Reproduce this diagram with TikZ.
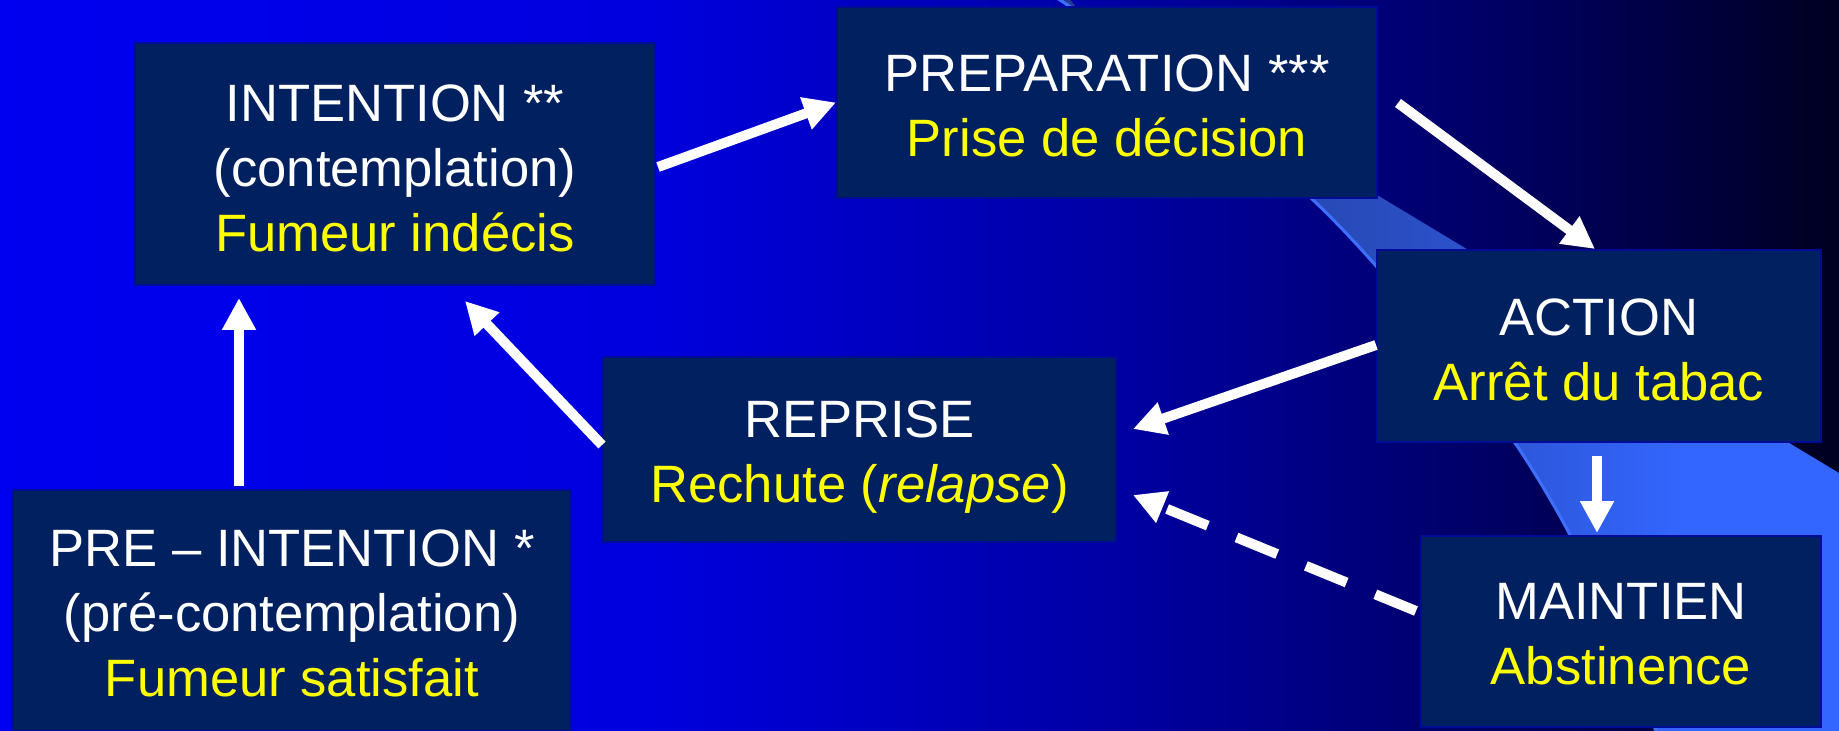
\documentclass[tikz,border=0pt]{standalone}
\usepackage{fontspec}
\setmainfont{Liberation Sans}
\usetikzlibrary{arrows.meta,calc}
\definecolor{boxfill}{RGB}{0,32,96}
\definecolor{boxline}{RGB}{0,12,150}
\definecolor{yel}{RGB}{255,255,0}
\definecolor{bgA}{RGB}{0,0,240}
\definecolor{bgB}{RGB}{0,0,222}
\definecolor{bgC}{RGB}{0,0,165}
\definecolor{bgD}{RGB}{0,0,120}
\definecolor{bgE}{RGB}{0,0,80}
\definecolor{bgF}{RGB}{0,0,32}
\definecolor{bdA}{RGB}{35,60,145}
\definecolor{bdB}{RGB}{42,78,195}
\definecolor{bdC}{RGB}{51,102,255}
\definecolor{bdEdge}{RGB}{62,112,255}
\pgfdeclarehorizontalshading{bgshade}{100bp}{color(0bp)=(bgA); color(25bp)=(bgA); color(42.5bp)=(bgB); color(55bp)=(bgC); color(62.5bp)=(bgD); color(68.5bp)=(bgE); color(75bp)=(bgF); color(100bp)=(bgF)}
\pgfdeclarehorizontalshading{bandshade}{100bp}{color(0bp)=(bdA); color(25bp)=(bdA); color(46.9bp)=(bdB); color(62.5bp)=(bdC); color(75bp)=(bdC); color(100bp)=(bdC)}
\newcommand{\topstrut}[1]{\rule{0pt}{#1}}
\tikzset{
  box/.style={draw=boxline, line width=1pt, fill=boxfill, text=white, align=center, inner sep=0pt, font=\fontsize{26.3}{32.5}\selectfont},
  conn/.style={draw=white, line width=5pt, -{Triangle[length=16pt,width=16pt]}},
  dashconn/.style={conn, dash pattern=on 22pt off 15.5pt}
}
\begin{document}
\begin{tikzpicture}[x=0.5pt,y=-0.5pt]
\useasboundingbox (0,0) rectangle (1839,731);
\shade[shading=bgshade] (0,0) rectangle (1839,731);
\begin{scope}
\clip (0,0) rectangle (1839,731);
\shade[shading=bandshade] plot[smooth] coordinates {(1040,-10) (1060,0) (1195,95) (1312,199) (1377,267) (1437,340) (1515,443) (1569,533) (1614,630) (1656,731) (1668,760)} -- (1900,760) -- (1900,510) -- (1839,473) -- (1377,195) -- (1090,14) -- (1076,7) -- (1062,-10) -- cycle;
\draw[bdEdge, line width=1.5pt] plot[smooth] coordinates {(1040,-10) (1060,0) (1195,95) (1312,199) (1377,267) (1437,340) (1515,443) (1569,533) (1614,630) (1656,731) (1668,760)};
\end{scope}

\node[box, minimum width=260pt, minimum height=121pt] (int) at (395,164) {\topstrut{22.5pt}INTENTION **\\(contemplation)\\\textcolor{yel}{Fumeur indécis}};
\node[box, minimum width=270pt, minimum height=95.5pt] (prep) at (1107,102.5) {\topstrut{22pt}PREPARATION ***\\\textcolor{yel}{Prise de décision}};
\node[box, minimum width=222pt, minimum height=96pt] (act) at (1599,346) {\topstrut{22.5pt}ACTION\\\textcolor{yel}{Arrêt du tabac}};
\node[box, minimum width=256.5pt, minimum height=92.5pt] (rep) at (859.5,449.5) {\topstrut{26pt}REPRISE\\\textcolor{yel}{Rechute (\textit{relapse})}};
\node[box, minimum width=279pt, minimum height=120.5pt] (pre) at (292,610.5) {\topstrut{21pt}PRE – INTENTION *\\(pré-contemplation)\\\textcolor{yel}{Fumeur satisfait}};
\node[box, minimum width=200pt, minimum height=95.5pt] (main) at (1621,631.5) {\topstrut{21pt}MAINTIEN\\\textcolor{yel}{Abstinence}};

\draw[conn] ($(pre.north west)+(227,-3)$) -- ($(int.south west)+(105,12)$);
\draw[conn] ($(int.east)+(2,3)$) -- (prep.west);
\draw[conn] ($(prep.east)+(20,0.5)$) -- ($(act.north)+(-4,0)$);
\draw[conn] ($(act.west)+(0,-1)$) -- ($(rep.east)+(16,-20.5)$);
\draw[conn] ($(act.south)+(-2,13)$) -- ($(main.north)+(-24,-2)$);
\draw[dashconn] ($(main.west)+(-4,-20.5)$) -- ($(rep.east)+(16,45.5)$);
\draw[conn] ($(rep.west)+(0,-4.5)$) -- ($(int.south)+(70,15)$);
\end{tikzpicture}
\end{document}
